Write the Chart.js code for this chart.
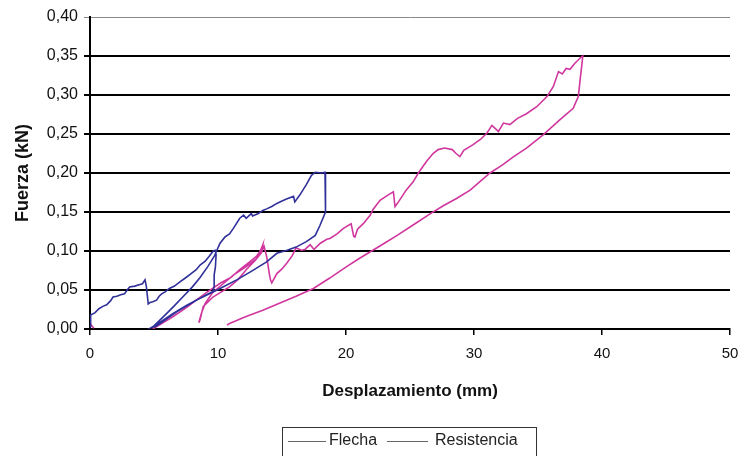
<!DOCTYPE html>
<html>
<head>
<meta charset="utf-8">
<script src="https://cdn.jsdelivr.net/npm/chart.js@4.4.1/dist/chart.umd.min.js"></script>
<style>
  html, body { margin: 0; padding: 0; background: #fff; }
  #wrap { position: relative; width: 749px; height: 456px; overflow: hidden; }
  #leyenda {
    position: absolute; left: 282px; top: 427px; width: 255px; height: 40px;
    border: 1px solid #333; box-sizing: border-box;
    font-family: 'Liberation Sans', Arial, sans-serif; font-size: 16px; color: #222;
  }
  #leyenda span.linea {
    position: absolute; top: 13px; height: 0; border-top: 1px solid #666;
  }
  #leyenda span.txt { position: absolute; top: 3px; }
</style>
</head>
<body>
<div id="wrap">
  <canvas id="grafico" width="749" height="456"></canvas>
  <div id="leyenda">
    <span class="linea" style="left:5px;width:38px"></span><span class="txt" style="left:46px">Flecha</span>
    <span class="linea" style="left:104px;width:41px"></span><span class="txt" style="left:152px">Resistencia</span>
  </div>
</div>
<script>
const series = ['Flecha', 'Resistencia'];

// Flecha [desplazamiento mm, fuerza kN]
const flecha = [
  [0, 0.003], [0.05, 0.018], [0.4, 0.021], [0.7, 0.026], [1.0, 0.029], [1.3, 0.031], [1.6, 0.036], [1.8, 0.041],
  [2.1, 0.042], [2.4, 0.044], [2.7, 0.045], [2.9, 0.050], [3.1, 0.054], [3.5, 0.055], [3.9, 0.057], [4.1, 0.058],
  [4.3, 0.063], [4.4, 0.055], [4.55, 0.032], [4.7, 0.034], [4.9, 0.035], [5.2, 0.037], [5.4, 0.042], [5.6, 0.045],
  [5.9, 0.048], [6.2, 0.052], [6.6, 0.055], [7.0, 0.060], [7.5, 0.066], [7.9, 0.071], [8.3, 0.076], [8.6, 0.082],
  [9.0, 0.087], [9.3, 0.093], [9.63, 0.100], [9.8, 0.101],
  [9.85, 0.095], [9.8, 0.080], [9.7, 0.069], [9.7, 0.055], [9.6, 0.048], [9.0, 0.043], [8.3, 0.037], [7.5, 0.030],
  [6.5, 0.020], [5.6, 0.010], [5.0, 0.003], [4.8, 0.002],
  [5.0, 0.004], [5.5, 0.012], [6.0, 0.020], [6.6, 0.030], [7.3, 0.042], [8.0, 0.054], [8.6, 0.066], [9.2, 0.080],
  [9.7, 0.093], [10.16, 0.110], [10.55, 0.118], [10.9, 0.122], [11.2, 0.129], [11.7, 0.142], [12.0, 0.146],
  [12.2, 0.142], [12.6, 0.148], [12.7, 0.145], [13.15, 0.148], [13.5, 0.152], [13.8, 0.154], [14.2, 0.157],
  [14.6, 0.161], [15.0, 0.164], [15.4, 0.167], [15.9, 0.170], [16.0, 0.163], [16.4, 0.172], [16.9, 0.185],
  [17.3, 0.197], [17.6, 0.201], [18.1, 0.200], [18.36, 0.201],
  [18.4, 0.185], [18.4, 0.165], [18.4, 0.150], [17.97, 0.133], [17.6, 0.120], [16.9, 0.112], [16.1, 0.105],
  [15.4, 0.101], [14.6, 0.097], [13.8, 0.086], [12.5, 0.073], [11.46, 0.063], [10.16, 0.052], [8.33, 0.037],
  [6.77, 0.022], [5.3, 0.005], [5.0, 0.002]
];

// Resistencia [desplazamiento mm, fuerza kN]; null corta la línea
const resistencia = [
  [0, 0.007], [0.3, 0.001], [null, null],
  [4.9, 0.000], [5.5, 0.006], [6.5, 0.016], [7.5, 0.027], [8.3, 0.037], [9.2, 0.048], [10.2, 0.059], [11.0, 0.066],
  [11.7, 0.076], [12.4, 0.085], [13.0, 0.093], [13.3, 0.100], [13.5, 0.108],
  [13.4, 0.098], [13.0, 0.090], [12.2, 0.080], [11.2, 0.069], [10.4, 0.058], [9.6, 0.047], [9.0, 0.033],
  [8.7, 0.020], [8.5, 0.008],
  [8.6, 0.012], [8.85, 0.029], [9.3, 0.036], [9.6, 0.041], [10.3, 0.048], [10.9, 0.054], [11.6, 0.064],
  [12.2, 0.076], [12.9, 0.088], [13.4, 0.099], [13.6, 0.106], [13.8, 0.093], [14.0, 0.072], [14.1, 0.063],
  [14.2, 0.059], [14.6, 0.071], [15.0, 0.077], [15.4, 0.085], [15.8, 0.094], [16.1, 0.104], [16.5, 0.101],
  [16.8, 0.102], [17.2, 0.108], [17.5, 0.102], [18.0, 0.110], [18.5, 0.115], [18.75, 0.116], [19.3, 0.122],
  [19.8, 0.129], [20.4, 0.135], [20.6, 0.119], [20.7, 0.118], [20.9, 0.128], [21.35, 0.135], [21.9, 0.146],
  [22.1, 0.153], [22.66, 0.165], [23.3, 0.172], [23.7, 0.176], [23.83, 0.157], [24.1, 0.163], [24.7, 0.178],
  [25.26, 0.189], [25.65, 0.200], [26.3, 0.215], [26.8, 0.225], [27.2, 0.230], [27.7, 0.232], [28.3, 0.230],
  [28.6, 0.225], [28.9, 0.221], [29.2, 0.229], [29.9, 0.236], [30.5, 0.243], [31.0, 0.251], [31.4, 0.261],
  [31.8, 0.255], [31.9, 0.253], [32.3, 0.264], [32.8, 0.262], [33.4, 0.270], [34.1, 0.276], [34.9, 0.285],
  [35.7, 0.298], [36.2, 0.311], [36.6, 0.330], [36.9, 0.327], [37.2, 0.334], [37.5, 0.333], [37.9, 0.341],
  [38.4, 0.349], [38.5, 0.350],
  [38.4, 0.335], [38.3, 0.321], [38.15, 0.298], [37.75, 0.283], [36.7, 0.268], [35.4, 0.249], [34.1, 0.232],
  [33.1, 0.221], [32.2, 0.210], [31.25, 0.200], [29.7, 0.178], [28.6, 0.167], [27.6, 0.158], [26.6, 0.148],
  [25.3, 0.134], [24.0, 0.120], [23.0, 0.110], [22.1, 0.101], [21.0, 0.090], [20.05, 0.080], [18.7, 0.065],
  [17.45, 0.052], [16.1, 0.042], [14.8, 0.033], [13.5, 0.024], [12.2, 0.016], [10.9, 0.007], [10.7, 0.005]
];

const puntos = (pares) => pares.map(p => ({ x: p[0], y: p[1] }));
const fuente = "'Liberation Sans', Arial, sans-serif";

const ctx = document.getElementById('grafico');
new Chart(ctx, {
  type: 'scatter',
  data: {
    datasets: [{
      label: series[0],
      data: puntos(flecha),
      showLine: true,
      borderColor: '#30309a',
      borderWidth: 1.6,
      pointRadius: 0,
      spanGaps: false
    }, {
      label: series[1],
      data: puntos(resistencia),
      showLine: true,
      borderColor: '#d0379e',
      borderWidth: 1.6,
      pointRadius: 0,
      spanGaps: false
    }]
  },
  options: {
    responsive: false,
    animation: false,
    layout: { padding: { left: 0, right: 19, top: 17, bottom: 54 } },
    scales: {
      x: {
        type: 'linear', min: 0, max: 50,
        afterFit: (s) => { s.height = 73; },
        ticks: { stepSize: 10, color: '#111', padding: 10, font: { family: fuente, size: 15 } },
        grid: { drawOnChartArea: false, drawTicks: true, tickLength: 6, color: '#000', lineWidth: 1.5 },
        border: { display: true, color: '#000', width: 2 },
        title: { display: true, text: 'Desplazamiento (mm)', color: '#111', font: { family: fuente, size: 17, weight: 'bold' }, padding: { top: 0, bottom: 0 } }
      },
      y: {
        type: 'linear', min: 0, max: 0.4,
        afterFit: (s) => { s.width = 90; },
        ticks: {
          stepSize: 0.05, color: '#111', padding: 6, font: { family: fuente, size: 16 },
          callback: (v) => v.toFixed(2).replace('.', ',')
        },
        grid: {
          drawTicks: true, tickLength: 6,
          color: (c) => c.index === 8 ? '#888' : '#000',
          lineWidth: (c) => c.index === 8 ? 1 : 2
        },
        border: { display: true, color: '#000', width: 2 },
        title: { display: true, text: 'Fuerza (kN)', color: '#111', font: { family: fuente, size: 18, weight: 'bold' }, padding: { top: 12, bottom: 0 } }
      }
    },
    plugins: {
      legend: { display: false },
      tooltip: { enabled: false }
    }
  }
});
</script>
</body>
</html>
